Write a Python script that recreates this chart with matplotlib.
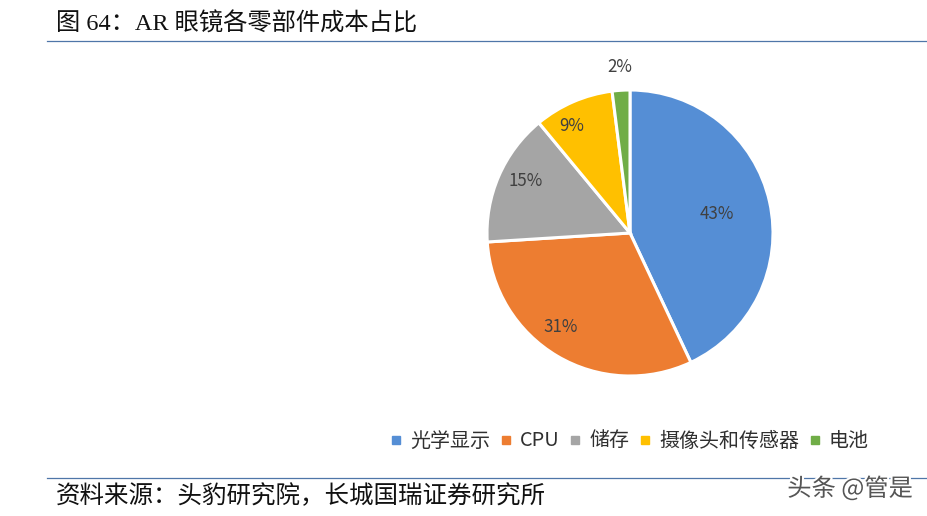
import matplotlib
matplotlib.use('Agg')
import matplotlib.pyplot as plt
import matplotlib.patheffects as pe
from matplotlib.lines import Line2D

plt.rcParams['font.family'] = ['Noto Sans CJK SC', 'DejaVu Sans']

## Data
categories = ['光学显示', 'CPU', '储存', '摄像头和传感器', '电池']
shares = [43, 31, 15, 9, 2]
colors = ['#558ed5', '#ed7d31', '#a5a5a5', '#ffc000', '#70ad47']
pct_labels = ['43%', '31%', '15%', '9%', '2%']
title = '图 64：AR 眼镜各零部件成本占比'
source = '资料来源：头豹研究院，长城国瑞证券研究所'
watermark = '头条 @管是'

W, H = 927, 516
fig = plt.figure(figsize=(W/100, H/100), dpi=100)

## Pie, square axes placed in pixels
cx, cy, r = 630, 233, 143
ax = fig.add_axes([(cx-r-2)/W, 1-(cy+r+2)/H, (2*r+4)/W, (2*r+4)/H])
wedges, _ = ax.pie(shares, colors=colors, startangle=90, counterclock=False,
                   radius=1, wedgeprops={'edgecolor': 'white', 'linewidth': 2.2})
ax.set_xlim(-1.014, 1.014)
ax.set_ylim(-1.014, 1.014)

## Percent labels
label_pos = [(717, 214), (561, 327), (526, 181), (572, 126), (620, 67)]
for txt, (x, y) in zip(pct_labels, label_pos):
    fig.text(x/W, 1-y/H, txt, fontsize=12.2, color='#404040', ha='center', va='center')

## Legend
handles = [Line2D([], [], marker='s', ls='', color=c, markersize=6) for c in colors]
fig.legend(handles, categories, loc='center', bbox_to_anchor=(630/W, 1-441/H), ncol=5,
           frameon=False, fontsize=14.4, handlelength=0.5, handletextpad=0.45,
           columnspacing=0.54, labelcolor='#303030')

## Header and footer
fig.text(56/W, 1-24/H, title, fontsize=17.5, color='#111111', ha='left', va='center',
         family=['Liberation Serif', 'Noto Sans CJK SC'])
fig.add_artist(Line2D([47/W, 927/W], [1-40.5/H, 1-40.5/H], color='#4f76a8', lw=0.9))
fig.add_artist(Line2D([47/W, 927/W], [1-478/H, 1-478/H], color='#4f76a8', lw=0.9))
fig.text(56/W, 1-496/H, source, fontsize=17.65, color='#111111', ha='left', va='center')
fig.text(850/W, 1-489/H, watermark, fontsize=17.5, color='#555555', ha='center', va='center',
         path_effects=[pe.withStroke(linewidth=3, foreground='white')])

fig.savefig('out.png', dpi=100)
